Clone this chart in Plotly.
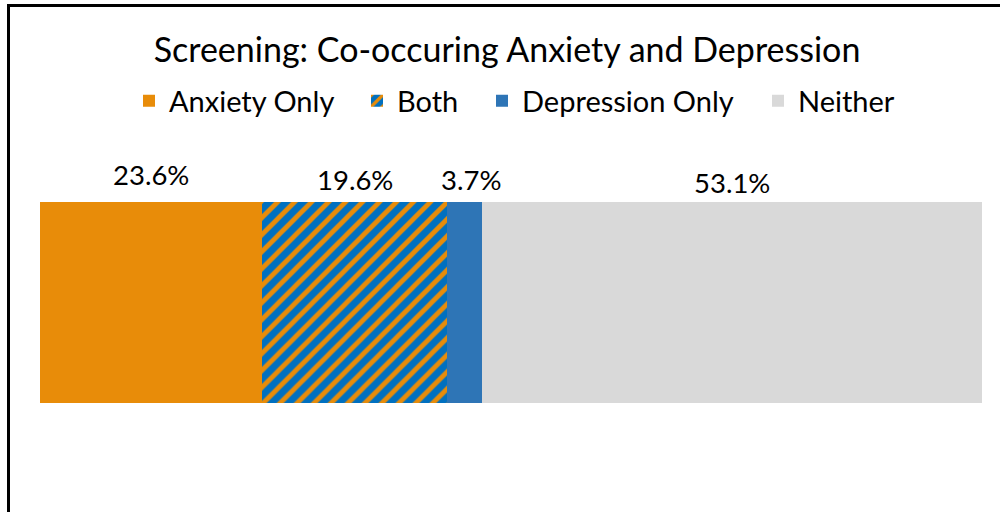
import plotly.graph_objects as go

# Screening results, share of respondents (%)
categories = ["Anxiety Only", "Both", "Depression Only", "Neither"]
values = [23.6, 19.6, 3.7, 53.1]
value_labels = ["23.6%", "19.6%", "3.7%", "53.1%"]

ORANGE = "#E88C09"
HATCH_BLUE = "#0070C0"
BLUE = "#2E75B6"
GRAY = "#D9D9D9"
FONT = "Lato"

# plot area in pixels: x 40..982, y 202..403
def px_to_x(px):
    return (px - 40) / 942


def px_to_y(py):
    return (403 - py) / 201


styles = {
    "Anxiety Only": dict(color=ORANGE),
    "Both": dict(color=HATCH_BLUE,
                 pattern=dict(shape="/", fgcolor=ORANGE, bgcolor=HATCH_BLUE,
                              size=12, solidity=0.4, fillmode="replace")),
    "Depression Only": dict(color=BLUE),
    "Neither": dict(color=GRAY),
}

# each legend entry gets its own legend box so the spacing can be set
legend_ids = ["legend", "legend2", "legend3", "legend4"]
legend_left_px = [129, 357, 482, 758]

fig = go.Figure()
for cat, val, lg in zip(categories, values, legend_ids):
    fig.add_trace(go.Bar(
        x=[val], y=[0], name=cat, orientation="h", width=1,
        marker=dict(line=dict(width=0), **styles[cat]),
        hoverinfo="skip", legend=lg,
    ))

# value labels above each segment
label_yshift = [28, 23, 23, 20]
label_xshift = [0, 0, 7, 0]
cum = 0
for val, txt, dy, dx in zip(values, value_labels, label_yshift, label_xshift):
    mid = cum + val / 2
    cum += val
    fig.add_annotation(x=mid, y=0.5, xref="x", yref="y", text=txt,
                       showarrow=False, yanchor="middle", yshift=dy, xshift=dx,
                       font=dict(family=FONT, size=27.5, color="#000000"))

# chart frame (left and top edges)
fig.add_shape(type="path", xref="paper", yref="paper",
              path=f"M {px_to_x(8.5)},{px_to_y(530)} L {px_to_x(8.5)},{px_to_y(5.5)} L {px_to_x(1010)},{px_to_y(5.5)}",
              line=dict(color="#000000", width=3))

legend_common = dict(orientation="h", xanchor="left", yanchor="middle",
                     y=px_to_y(101), bgcolor="rgba(0,0,0,0)", borderwidth=0,
                     font=dict(family=FONT, size=29, color="#000000"),
                     itemclick=False, itemdoubleclick=False)
legend_layout = {lg: dict(x=px_to_x(px), **legend_common)
                 for lg, px in zip(legend_ids, legend_left_px)}

fig.update_layout(
    width=1000, height=512,
    margin=dict(l=40, r=18, t=202, b=109),
    paper_bgcolor="white", plot_bgcolor="white",
    barmode="stack", bargap=0,
    title=dict(text="Screening: Co-occuring Anxiety and Depression",
               x=0.507, xanchor="center", y=1 - 50 / 512, yanchor="middle",
               font=dict(family=FONT, size=34, color="#000000")),
    xaxis=dict(range=[0, 100], visible=False, fixedrange=True),
    yaxis=dict(range=[-0.5, 0.5], visible=False, fixedrange=True),
    showlegend=True,
    **legend_layout,
)

fig.write_html("out.html")
